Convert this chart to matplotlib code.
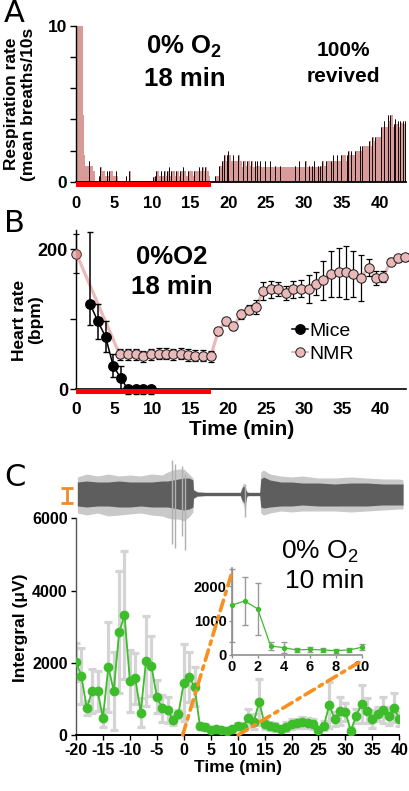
import matplotlib
matplotlib.use("Agg")
import matplotlib.pyplot as plt
from matplotlib.patches import Rectangle, ConnectionPatch
from matplotlib.transforms import blended_transform_factory
from matplotlib.lines import Line2D

plt.rcParams['font.family'] = ['Liberation Sans', 'DejaVu Sans']
plt.rcParams['mathtext.fontset'] = 'custom'
plt.rcParams['mathtext.rm'] = 'Liberation Sans'
plt.rcParams['mathtext.bf'] = 'Liberation Sans:bold'

# ---------------- Panel A data: respiration per 10 s bin ----------------
resp_rate = [
    10, 10, 10, 10, 10, 4.3,          # min 0
    1.7, 1.0, 1.0, 1.0, 1.35, 1.0,    # 1
    1.0, 0.7, 0.7, 0, 0, 0,           # 2
    0.35, 0.95, 0.7, 0.7, 0.7, 0.35,  # 3
    0.7, 0.35, 0.7, 0.7, 0.7, 0.35,   # 4
    0.35, 0.7, 0.35, 0, 0, 0,         # 5
    0, 0, 0, 0.35, 0, 0,              # 6
    0.7, 0, 0, 0, 0, 0,               # 7
    0, 0, 0, 0, 0, 0,                 # 8
    0, 0, 0, 0, 0, 0,                 # 9
    0, 0.3, 0.35, 0.7, 0.7, 0.35,     # 10
    0.35, 0.7, 0.35, 0.7, 0.7, 0.35,  # 11
    0.7, 0.95, 0.35, 0.7, 0.7, 0.7,   # 12
    0.35, 0.7, 0.7, 0.35, 0.7, 0.7,   # 13
    0.95, 0.7, 0.7, 0.35, 0.7, 0.7,   # 14
    0.7, 0.7, 0.35, 0.7, 0.7, 0.7,    # 15
    0.7, 0.95, 0.7, 0.95, 0.95, 0.7,  # 16
    0.95, 0.7, 0.7, 0.35, 0, 0,       # 17
    0, 0, 0.35, 0.35, 0.35, 1.0,      # 18
    1.0, 1.35, 1.35, 1.7, 1.35, 1.7,  # 19
    2.0, 1.7, 1.35, 1.35, 1.7, 1.35,  # 20
    1.35, 1.35, 1.7, 1.35, 1.35, 0.95,  # 21
    1.35, 1.35, 1.0, 1.35, 1.35, 1.0,   # 22
    1.35, 1.35, 0.95, 1.35, 1.0, 1.35,  # 23
    1.0, 1.35, 0.95, 0.95, 0.95, 1.35,  # 24
    0.95, 0.95, 0.95, 1.35, 0.95, 0.95,  # 25
    0.95, 1.0, 0.95, 0.95, 0.95, 1.0,    # 26
    0.95, 0.95, 0.95, 0.95, 0.95, 0.95,  # 27
    0.95, 0.95, 0.95, 0.95, 0.95, 1.0,   # 28
    0.95, 0.95, 1.3, 0.95, 0.95, 0.95,   # 29
    0.95, 1.3, 0.95, 0.95, 1.0, 0.95,    # 30
    1.0, 0.95, 1.3, 0.95, 0.95, 1.0,     # 31
    0.95, 1.0, 1.35, 1.35, 1.0, 1.35,    # 32
    1.35, 1.35, 1.3, 1.35, 1.35, 1.7,    # 33
    1.35, 1.35, 1.7, 1.35, 1.35, 1.7,    # 34
    1.7, 1.7, 1.7, 1.35, 1.7, 2.0,       # 35
    1.7, 2.0, 1.7, 1.7, 2.0, 2.0,        # 36
    2.0, 2.0, 2.3, 2.0, 2.3, 2.3,        # 37
    2.3, 2.3, 2.3, 2.6, 2.6, 2.3,        # 38
    2.9, 2.6, 2.9, 2.9, 2.9, 2.9,        # 39
    2.9, 3.5, 3.5, 3.9, 3.5, 3.5,        # 40
    4.3, 3.9, 4.3, 4.3, 3.5, 3.7,        # 41
    4.0, 3.7, 3.9, 3.5, 3.9, 3.8,        # 42
    3.9, 3.7, 3.9,                       # 43
]
bin_min = 1 / 6
hypoxia_A = (0, 17.8)
time_ticks = [0, 5, 10, 15, 20, 25, 30, 35, 40]

# ---------------- Panel B data: heart rate ----------------
nmr_t = [0, 5.7, 6.8, 7.8, 8.8, 9.9, 10.9, 11.85, 12.8, 13.75, 14.7, 15.7, 16.7, 17.7,
         18.7, 19.7, 20.7, 21.7, 22.7, 23.65, 24.6, 25.6, 26.6, 27.6, 28.6, 29.6, 30.6,
         31.6, 32.55, 33.55, 34.55, 35.55, 36.5, 37.5, 38.5, 39.45, 40.45, 41.4, 42.4, 43.35]
nmr_hr = [194, 50, 50, 50, 47, 50, 51, 51, 50, 51, 49, 48, 48, 47,
          83, 97, 90, 107, 114, 117, 140, 143, 144, 138, 143, 144, 143,
          151, 156, 165, 167, 167, 165, 159, 174, 159, 161, 182, 187, 189]
nmr_err = [28, 8, 8, 8, 8, 8, 8, 8, 8, 8, 8, 8, 8, 8,
           5, 5, 5, 7, 6, 10, 13, 12, 10, 10, 12, 12, 20,
           16, 28, 33, 35, 38, 33, 33, 12, 10, 8, 5, 5, 5]
mice_t = [1.8, 2.85, 3.85, 4.85, 5.85, 6.8, 7.8, 8.8, 9.85]
mice_hr = [122, 97, 75, 34, 16, 0, 0, 0, 0]
mice_err_lo = [30, 25, 22, 17, 17, 7, 7, 7, 7]
mice_err_hi = [103, 25, 22, 17, 17, 0, 0, 0, 0]
hypoxia_B = (0, 17.8)

# ---------------- Panel C data: integral ----------------
c_t = list(range(-20, 41))
c_val = [2030, 1630, 740, 1220, 1220, 480, 1890, 1220, 2840, 3320,
         1500, 1570, 620, 2050, 1910, 1060, 740, 690, 415, 580,
         1450, 1600, 1340, 250, 230, 140, 165, 140, 120, 157,
         250, 230, 480, 370, 920, 305, 250, 210, 157, 230,
         305, 320, 350, 340, 305, 140, 260, 830, 443, 665,
         630, 120, 525, 860, 675, 435, 575, 695, 525, 755, 443]
c_err = [530, 775, 200, 600, 550, 250, 1250, 1080, 1690, 1770,
         850, 700, 400, 1250, 830, 460, 370, 350, 150, 120,
         1060, 700, 550, 90, 80, 70, 70, 70, 60, 70,
         90, 90, 250, 200, 640, 150, 120, 110, 90, 120,
         130, 130, 150, 140, 130, 90, 120, 650, 200, 400,
         250, 100, 200, 520, 340, 250, 200, 370, 250, 400, 200]
inset_t = [0, 1, 2, 3, 4, 5, 6, 7, 8, 9, 10]
inset_val = [1450, 1580, 1345, 263, 215, 146, 166, 146, 127, 146, 224]
inset_err = [1060, 690, 755, 125, 150, 60, 70, 70, 60, 50, 90]

# raw trace envelope (px offsets around baseline)
trace_t = [-19.75, -18, -16, -14, -12, -10, -8, -6, -4, -3, -2, -1, 0, 1, 1.7, 1.8, 2.5, 4, 8,
           10.5, 10.8, 11.1, 11.4, 11.7, 12, 14.1, 14.3, 14.8, 16, 18, 20, 22, 25, 28, 31, 34,
           37, 40, 40.7]
inner_top = [12, 13, 12, 12, 13, 12, 12, 12, 13, 13, 14, 15, 16, 16, 14, 4, 2, 1.5, 1.5,
             1.5, 6, 8, 6, 2, 1.5, 1.5, 15, 17, 14, 12, 12, 11, 11, 10, 11, 11, 10, 10, 10]
inner_bot = [-12, -13, -12, -12, -13, -13, -12, -13, -13, -13, -14, -15, -16, -15, -13, -4, -2,
             -1.5, -1.5, -1.5, -6, -8, -10, -2, -1.5, -1.5, -13, -14, -13, -12, -12, -11, -12,
             -12, -12, -12, -11, -11, -11]
outer_top = [17, 20, 18, 20, 18, 19, 18, 20, 19, 22, 24, 25, 25, 20, 16, 5, 2.5, 2, 2,
             2, 8, 11, 8, 3, 2, 2, 22, 24, 20, 18, 17, 18, 16, 16, 17, 16, 15, 15, 14]
outer_bot = [-19, -21, -19, -22, -21, -20, -19, -21, -22, -24, -25, -25, -27, -23, -18, -5, -2.5,
             -2, -2, -2, -8, -11, -20, -3, -2, -2, -19, -21, -19, -17, -18, -17, -17, -17, -18,
             -17, -16, -15, -15]
spike_t = [-2.2, -1.6, -0.3, 0.2, 11.4]
spike_top = [34, 30, 28, 20, 10]
spike_bot = [-50, -54, -42, -56, -23]

# ---------------- figure ----------------
W, H = 410, 791
fig = plt.figure(figsize=(W / 100, H / 100), dpi=100)


def add_ax(l, t, r, b):
    return fig.add_axes([l / W, 1 - b / H, (r - l) / W, (b - t) / H])


def ftext(x, y, s, **kw):
    fig.text(x / W, 1 - y / H, s, **kw)


PINK_BAR = '#d99a9a'
RED = '#ff0000'

# ---- Panel A ----
axA = add_ax(76.3, 26, 406.5, 181.7)
lefts = [i * bin_min for i in range(len(resp_rate))]
axA.bar(lefts, resp_rate, width=bin_min, align='edge', color=PINK_BAR, edgecolor='none', zorder=2)
edge_x = [lefts[i] for i in range(1, len(resp_rate)) if resp_rate[i] > resp_rate[i - 1]]
edge_h = [resp_rate[i] for i in range(1, len(resp_rate)) if resp_rate[i] > resp_rate[i - 1]]
axA.vlines(edge_x, 0, edge_h, colors='black', lw=0.65, zorder=3)
axA.set_xlim(0, 43.5)
axA.set_ylim(0, 10)
for s in ['top', 'right']:
    axA.spines[s].set_visible(False)
axA.spines['left'].set_linewidth(1)
axA.spines['bottom'].set_linewidth(1.3)
axA.set_yticks([0, 10])
axA.set_yticks([2, 4, 6, 8], minor=True)
axA.set_yticklabels(['0', '10'], fontsize=12.5, fontweight='bold')
axA.tick_params(axis='y', which='both', length=4.5, width=1, pad=2)
axA.set_xticks(time_ticks)
axA.set_xticklabels([str(v) for v in time_ticks], fontsize=12, fontweight='bold')
axA.tick_params(axis='x', length=0, pad=10.5)
trA = blended_transform_factory(axA.transData, axA.transAxes)
axA.add_patch(Rectangle((hypoxia_A[0], -5 / 155.7), hypoxia_A[1] - hypoxia_A[0], 5 / 155.7,
                        transform=trA, color=RED, clip_on=False, zorder=5, lw=0))

ftext(184, 47, '0% O$_\\mathbf{2}$', fontsize=18.5, fontweight='bold', ha='center', va='center')
ftext(185, 79, '18 min', fontsize=18.5, fontweight='bold', ha='center', va='center')
ftext(343, 50, '100%', fontsize=15, fontweight='bold', ha='center', va='center')
ftext(343, 76, 'revived', fontsize=15, fontweight='bold', ha='center', va='center')
ftext(20, 104, 'Respiration rate\n(mean breaths/10s', fontsize=12.5, fontweight='bold',
      rotation=90, ha='center', va='center', linespacing=1.15)

# ---- Panel B ----
axB = add_ax(76.3, 229.7, 406.5, 389.3)
axB.plot(nmr_t, nmr_hr, '-', color='#ebb9b9', lw=2.3, zorder=2)
axB.errorbar(nmr_t, nmr_hr, yerr=nmr_err, fmt='none', ecolor='black', elinewidth=0.9,
             capsize=2.2, capthick=0.9, zorder=3, clip_on=False)
axB.plot(nmr_t, nmr_hr, 'o', color='#ebb9b9', ms=6.8, mfc='#e9b9b9', mec='#1a1a1a',
         mew=0.7, zorder=4, clip_on=False)
axB.plot(nmr_t[:1], nmr_hr[:1], 'o', ms=6.8, mfc='#d99090', mec='#8a4a4a', mew=0.7, zorder=4)
axB.errorbar(mice_t, mice_hr, yerr=[mice_err_lo, mice_err_hi], fmt='none', ecolor='black',
             elinewidth=1.1, capsize=2.2, capthick=1, zorder=5)
axB.errorbar(mice_t[5:], mice_hr[5:], yerr=[mice_err_lo[5:], mice_err_hi[5:]], fmt='none',
             ecolor='black', elinewidth=1.1, capsize=2.2, capthick=1, zorder=5, clip_on=False)
axB.plot(mice_t, mice_hr, '-', color='black', lw=1.1, zorder=5, clip_on=False)
axB.plot(mice_t, mice_hr, 'o', color='black', ms=6.8, mfc='black', mec='black',
         zorder=6, clip_on=False)
axB.set_xlim(0, 43.5)
axB.set_ylim(0, 228)
for s in ['top', 'right']:
    axB.spines[s].set_visible(False)
axB.spines['left'].set_linewidth(1)
axB.spines['bottom'].set_linewidth(1.2)
axB.set_yticks([0, 200])
axB.set_yticks([100], minor=True)
axB.set_yticklabels(['0', '200'], fontsize=13, fontweight='bold')
axB.tick_params(axis='y', which='both', length=4, width=1, pad=2)
axB.set_xticks(time_ticks)
axB.set_xticklabels([str(v) for v in time_ticks], fontsize=12.5, fontweight='bold')
axB.tick_params(axis='x', length=0, pad=9.5)
axB.set_xlabel('Time (min)', fontsize=15, fontweight='bold', labelpad=2)
trB = blended_transform_factory(axB.transData, axB.transAxes)
axB.add_patch(Rectangle((hypoxia_B[0], -5 / 159.6), hypoxia_B[1] - hypoxia_B[0], 5 / 159.6,
                        transform=trB, color=RED, clip_on=False, zorder=7, lw=0))
mice_h = Line2D([], [], color='black', marker='o', ms=6.8, lw=1.1)
nmr_h = Line2D([], [], color='#d9a0a0', marker='o', ms=6.8, mfc='#e9b9b9', mec='#1a1a1a',
               mew=0.7, lw=1.1)
axB.legend([mice_h, nmr_h], ['Mice', 'NMR'], loc='upper left', frameon=False,
           bbox_to_anchor=(292 / W, 1 - 322 / H), bbox_transform=fig.transFigure,
           fontsize=14, handlelength=0.8, handletextpad=0.1, labelspacing=0.3, borderpad=0,
           borderaxespad=0)
ftext(172, 257, '0%O2', fontsize=18.5, fontweight='bold', ha='center', va='center')
ftext(172, 287, '18 min', fontsize=18.5, fontweight='bold', ha='center', va='center')
ftext(28, 320, 'Heart rate\n(bpm)', fontsize=12.5, fontweight='bold', rotation=90,
      ha='center', va='center', linespacing=1.1)

# ---- Panel C ----
axC = add_ax(76, 518.3, 399.3, 735)
axC.errorbar(c_t, c_val, yerr=c_err, fmt='none', ecolor='#d4d4d4', elinewidth=2.3,
             capsize=3, capthick=2.3, zorder=2)
axC.plot(c_t, c_val, '-o', color='#3dbd2a', lw=1.3, ms=6, mec='#3dbd2a', zorder=3)
axC.set_xlim(-20, 40)
axC.set_ylim(0, 6000)
for s in ['top', 'right']:
    axC.spines[s].set_visible(False)
axC.spines['left'].set_color('#555555')
axC.spines['left'].set_linewidth(1)
axC.spines['bottom'].set_linewidth(1.4)
axC.set_yticks([0, 2000, 4000, 6000])
axC.set_yticklabels(['0', '2000', '4000', '6000'], fontsize=11.5, fontweight='bold')
axC.set_xticks(list(range(-20, 45, 5)))
axC.set_xticklabels([str(v) for v in range(-20, 45, 5)], fontsize=11.5, fontweight='bold')
axC.tick_params(axis='both', length=3.5, width=1, pad=2.5)
axC.set_xlabel('Time (min)', fontsize=12.5, fontweight='bold', labelpad=1)
ftext(21, 628, 'Intergral (\u03bcV)', fontsize=12.5, fontweight='bold', rotation=90,
      ha='center', va='center')
ftext(320, 552, '0% O$_2$', fontsize=19, ha='center', va='center')
ftext(325, 581, '10 min', fontsize=19, ha='center', va='center')

# raw trace
axT = add_ax(76, 455, 399.3, 555)
axT.set_xlim(-20, 40)
axT.set_ylim(-61, 39)
axT.axis('off')
axT.fill_between(trace_t, outer_bot, outer_top, color='#c9c9c9', lw=0, clip_on=False)
axT.fill_between(trace_t, inner_bot, inner_top, color='#5e5e5e', lw=0, clip_on=False)
axT.vlines(spike_t, spike_bot, spike_top, colors='#b0b0b0', lw=1, clip_on=False)
axT.errorbar([-21.67], [-1.5], yerr=[7.5], fmt='none', ecolor='#f08a24', elinewidth=2,
             capsize=4, capthick=2, clip_on=False)

# inset
axI = add_ax(231.7, 568, 361.7, 655)
axI.patch.set_alpha(0)
axI.errorbar(inset_t, inset_val, yerr=inset_err, fmt='none', ecolor='#999999', elinewidth=1,
             capsize=2, capthick=1, zorder=2, clip_on=False)
axI.plot(inset_t, inset_val, '-o', color='#3dbd2a', lw=0.9, ms=2.8, zorder=3, clip_on=False)
axI.set_xlim(0, 10)
axI.set_ylim(0, 2540)
for s in ['top', 'right']:
    axI.spines[s].set_visible(False)
axI.spines['left'].set_color('#909090')
axI.spines['bottom'].set_color('#909090')
axI.spines['left'].set_linewidth(1.2)
axI.spines['bottom'].set_linewidth(1.2)
axI.set_xticks([0, 2, 4, 6, 8, 10])
axI.set_xticklabels(['0', '2', '4', '6', '8', '10'], fontsize=10.5, fontweight='bold')
axI.set_yticks([0, 1000, 2000])
axI.set_yticklabels(['0', '1000', '2000'], fontsize=10.5, fontweight='bold')
axI.tick_params(axis='both', length=2, width=1, pad=1.5, color='#909090')

for (xa, ya), (xb, yb) in [((-0.2, 0), (0, 2390)), ((10.1, 0), (10.1, -146))]:
    con = ConnectionPatch(xyA=(xa, ya), coordsA=axC.transData, xyB=(xb, yb),
                          coordsB=axI.transData, color='#f7901e', lw=2.6,
                          linestyle=(0, (3, 1.6, 1, 1.6)), zorder=10)
    fig.add_artist(con)

# panel letters
ftext(14, 13, 'A', fontsize=22, family='DejaVu Sans', ha='center', va='center')
ftext(14.5, 223.5, 'B', fontsize=22, family='DejaVu Sans', ha='center', va='center')
ftext(15, 477, 'C', fontsize=22, family='DejaVu Sans', ha='center', va='center')

fig.savefig('out.png', dpi=100)
